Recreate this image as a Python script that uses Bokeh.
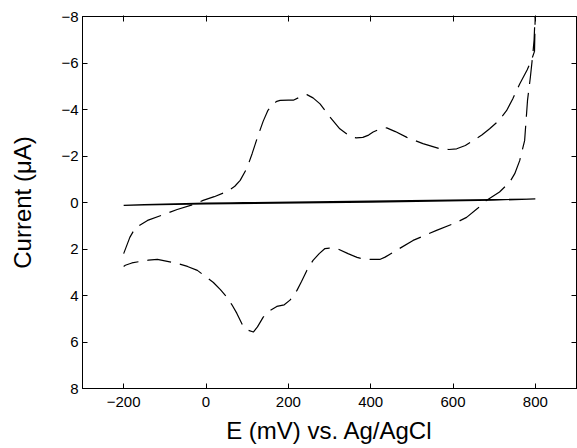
from bokeh.plotting import figure
from bokeh.models import Range1d, LinearAxis, FixedTicker
from bokeh.embed import file_html
from bokeh.resources import INLINE

# CV data: dashed curve, forward (upper) scan then reverse (lower) scan
e_fwd = [-200, -185, -172, -142, -100, -70, -30, -7, 20, 51, 70, 83, 100, 112, 125, 139,
         150, 163, 172, 180, 200, 212, 230, 245, 260, 277, 300, 325, 350, 365, 381, 395,
         406, 425, 439, 460, 488, 527, 568, 590, 609, 630, 648, 670, 689, 710, 730, 745,
         762, 780, 790, 798, 800]
i_fwd = [2.2, 1.5, 1.1, 0.77, 0.5, 0.3, 0.08, -0.09, -0.25, -0.47, -0.7, -0.95, -1.5, -2.1,
         -2.8, -3.5, -3.95, -4.24, -4.35, -4.39, -4.4, -4.4, -4.55, -4.64, -4.5, -4.24, -3.7,
         -3.17, -2.84, -2.78, -2.8, -2.9, -3.03, -3.18, -3.21, -3.05, -2.8, -2.53, -2.31,
         -2.28, -2.31, -2.45, -2.66, -2.9, -3.17, -3.5, -3.95, -4.45, -5.1, -5.7, -6.1, -6.5,
         -8.3]
e_rev = [797, 794, 788, 781, 774, 762, 750, 738, 713, 681, 660, 633, 609, 560, 503, 454,
         435, 422, 398, 380, 367, 345, 318, 300, 289, 275, 260, 245, 232, 221, 204, 190,
         172, 155, 139, 125, 115, 103, 91, 75, 63, 51, 35, 18, -21, -45, -70, -118, -140,
         -159, -180, -196, -200]
i_rev = [-7.0, -6.4, -5.4, -4.39, -2.66, -1.8, -1.24, -0.88, -0.45, -0.09, 0.25, 0.64, 0.85,
         1.2, 1.63, 2.15, 2.35, 2.45, 2.45, 2.42, 2.36, 2.2, 1.98, 1.96, 1.98, 2.2, 2.49, 2.92,
         3.4, 3.78, 4.2, 4.4, 4.47, 4.65, 4.93, 5.35, 5.57, 5.5, 5.35, 4.77, 4.4, 4.08, 3.75,
         3.44, 2.92, 2.75, 2.62, 2.45, 2.48, 2.53, 2.6, 2.7, 2.75]

# blank (background) CV: thin solid loop near zero
e_blank = [-200, -150, 0, 400, 800, 700, 400, 0, -150, -200]
i_blank = [0.12, 0.09, 0.03, -0.06, -0.15, -0.1, -0.02, 0.06, 0.1, 0.12]

x_ticks = [-200, 0, 200, 400, 600, 800]
y_ticks = [-8, -6, -4, -2, 0, 2, 4, 6, 8]

e_all = e_fwd + e_rev
i_all = i_fwd + i_rev

def lab(v):
    return ("\u2212" + str(abs(v))) if v < 0 else str(v)

FONT = "Liberation Sans"

p = figure(width=577, height=448, output_backend="svg", toolbar_location=None,
           x_range=Range1d(-300, 900), y_range=Range1d(8, -8),
           min_border_left=82, min_border_right=0, min_border_top=16, min_border_bottom=60,
           x_axis_label="E (mV) vs. Ag/AgCl", y_axis_label="Current (\u03bcA)")
p.outline_line_color = "black"
p.outline_line_width = 1
p.outline_line_alpha = 1.0
p.grid.visible = False
p.background_fill_color = "white"
p.border_fill_color = "white"

p.line(e_all, i_all, line_color="black", line_width=1.2, line_dash="24 9")
p.line(e_blank, i_blank, line_color="black", line_width=1.2)

bx = p.below[0]
ly = p.left[0]
bx.ticker = FixedTicker(ticks=x_ticks)
ly.ticker = FixedTicker(ticks=y_ticks)
bx.major_label_overrides = {v: lab(v) for v in x_ticks}
ly.major_label_overrides = {v: lab(v) for v in y_ticks}

top = LinearAxis(ticker=FixedTicker(ticks=x_ticks))
right = LinearAxis(ticker=FixedTicker(ticks=y_ticks))
top.major_label_overrides = {v: "" for v in x_ticks}
right.major_label_overrides = {v: "" for v in y_ticks}
p.add_layout(top, "above")
p.add_layout(right, "right")

for ax in (bx, ly, top, right):
    ax.major_tick_in = 5
    ax.major_tick_out = 0
    ax.minor_tick_line_color = None
    ax.axis_line_color = "black"
    ax.major_tick_line_color = "black"
    ax.major_label_text_font = FONT
    ax.major_label_text_font_size = "15px"
    ax.major_label_text_color = "black"
    ax.axis_label_text_font = FONT
    ax.axis_label_text_font_style = "normal"
    ax.axis_label_text_font_size = "24px"
    ax.axis_label_text_color = "black"

for ax in (top, right):
    ax.major_tick_out = 1
    ax.major_label_standoff = 1
right.axis_line_color = None
bx.major_label_standoff = 8
ly.major_label_standoff = 4
bx.axis_label_standoff = 7
ly.axis_label_standoff = 22

open("out.html", "w").write(file_html(p, INLINE))
